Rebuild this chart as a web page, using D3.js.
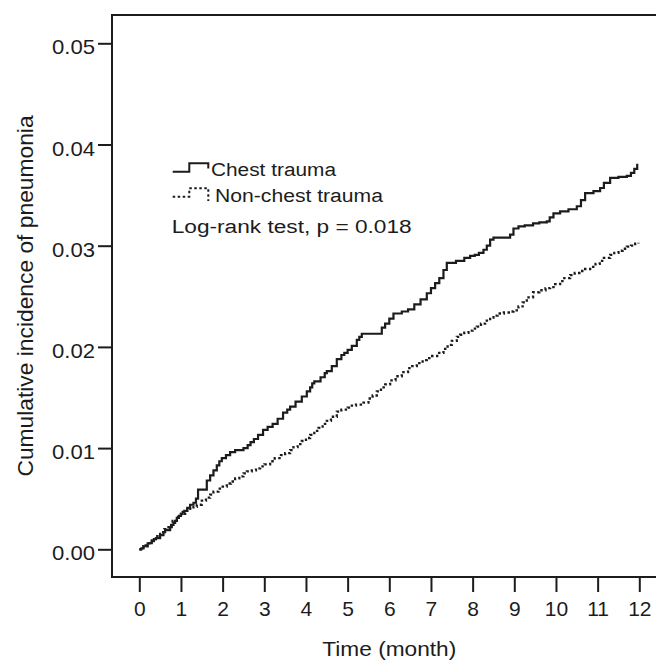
<!DOCTYPE html>
<html>
<head>
<meta charset="utf-8">
<script src="https://cdn.jsdelivr.net/npm/d3@7"></script>
<style>
  html, body { margin: 0; padding: 0; background: #fff; }
  svg { display: block; font-family: "Liberation Sans", Arial, Helvetica, sans-serif; }
</style>
</head>
<body>
<svg id="chart" width="656" height="661"></svg>
<script>
// ---- data ----
const xTicks = [0,1,2,3,4,5,6,7,8,9,10,11,12];
const yTicks = [0.00, 0.01, 0.02, 0.03, 0.04, 0.05];
const yTickLabels = ["0.00","0.01","0.02","0.03","0.04","0.05"];

const chestTime = [0,0.05,0.1,0.15,0.2,0.3,0.35,0.4,0.5,0.58,0.62,0.74,0.78,0.82,0.86,0.9,0.95,1.0,1.04,1.08,1.15,1.22,1.3,1.36,1.41,1.62,1.7,1.78,1.86,1.92,1.98,2.08,2.18,2.3,2.5,2.6,2.67,2.75,2.85,2.97,3.08,3.2,3.32,3.45,3.55,3.62,3.75,3.9,4.02,4.1,4.15,4.2,4.35,4.45,4.5,4.62,4.74,4.85,4.92,5.0,5.1,5.22,5.28,5.34,5.82,5.9,6.0,6.1,6.3,6.45,6.6,6.75,6.9,7.0,7.1,7.2,7.3,7.38,7.6,7.8,7.94,8.05,8.15,8.26,8.34,8.42,8.5,8.9,8.98,9.1,9.25,9.45,9.6,9.78,9.85,9.94,10.1,10.3,10.5,10.6,10.7,10.9,11.06,11.15,11.3,11.5,11.7,11.8,11.88,11.95];
const chestValue = [0,0.0001,0.0003,0.0004,0.0006,0.0008,0.0010,0.0011,0.0014,0.0017,0.0019,0.0022,0.0024,0.0026,0.0028,0.0031,0.0033,0.0035,0.0037,0.0038,0.0041,0.0044,0.0046,0.0050,0.0059,0.0068,0.0073,0.0078,0.0083,0.0087,0.0090,0.0093,0.0096,0.0098,0.0100,0.0103,0.0106,0.0109,0.0113,0.0118,0.0121,0.0124,0.0129,0.0135,0.0138,0.0141,0.0146,0.0151,0.0156,0.0160,0.0164,0.0166,0.0170,0.0174,0.0176,0.0181,0.0188,0.0192,0.0194,0.0197,0.0201,0.0207,0.0210,0.0213,0.0219,0.0223,0.0228,0.0233,0.0235,0.0237,0.0242,0.0247,0.0253,0.0258,0.0263,0.0268,0.0276,0.0283,0.0285,0.0288,0.0290,0.0291,0.0293,0.0296,0.0300,0.0306,0.0308,0.0311,0.0317,0.0319,0.0320,0.0322,0.0323,0.0324,0.0328,0.0332,0.0334,0.0336,0.0339,0.0345,0.0352,0.0354,0.0357,0.0362,0.0367,0.0368,0.0369,0.0372,0.0376,0.0381];

const nonTime = [0,0.1,0.2,0.3,0.4,0.5,0.6,0.7,0.8,0.9,1.0,1.1,1.2,1.3,1.38,1.5,1.6,1.7,1.78,1.9,2.0,2.1,2.2,2.3,2.4,2.5,2.58,2.7,2.8,2.9,3.0,3.14,3.25,3.4,3.5,3.62,3.7,3.8,3.9,4.0,4.1,4.2,4.3,4.4,4.5,4.6,4.74,4.85,5.0,5.1,5.2,5.38,5.5,5.6,5.7,5.8,5.9,6.02,6.15,6.3,6.45,6.55,6.66,6.8,6.9,7.0,7.15,7.3,7.4,7.5,7.62,7.7,7.8,7.9,8.0,8.1,8.2,8.3,8.42,8.5,8.6,8.75,8.9,8.98,9.1,9.2,9.3,9.45,9.6,9.75,9.86,9.98,10.1,10.2,10.34,10.45,10.6,10.7,10.82,10.95,11.05,11.15,11.3,11.4,11.5,11.6,11.7,11.8,11.9,11.98];
const nonValue = [0,0.0003,0.0006,0.0010,0.0013,0.0017,0.0020,0.0024,0.0028,0.0032,0.0035,0.0038,0.0040,0.0042,0.0044,0.0048,0.0051,0.0054,0.0057,0.0060,0.0062,0.0065,0.0067,0.0070,0.0072,0.0075,0.0077,0.0078,0.0080,0.0082,0.0084,0.0087,0.0090,0.0093,0.0095,0.0098,0.0101,0.0104,0.0107,0.0110,0.0113,0.0117,0.0120,0.0124,0.0127,0.0131,0.0136,0.0138,0.0140,0.0142,0.0143,0.0145,0.0149,0.0152,0.0156,0.0160,0.0163,0.0167,0.0171,0.0175,0.0179,0.0181,0.0184,0.0187,0.0189,0.0191,0.0194,0.0198,0.0202,0.0206,0.0210,0.0212,0.0214,0.0216,0.0218,0.0220,0.0223,0.0226,0.0229,0.0231,0.0233,0.0234,0.0235,0.0236,0.0240,0.0244,0.0249,0.0254,0.0256,0.0258,0.0259,0.0262,0.0265,0.0268,0.0271,0.0273,0.0275,0.0277,0.0279,0.0282,0.0285,0.0288,0.0291,0.0293,0.0295,0.0297,0.0299,0.0300,0.0302,0.0303];

const seriesNames = ["Chest trauma", "Non-chest trauma"];
const xTitle = "Time (month)";
const yTitle = "Cumulative incidence of pneumonia";
const annotation = "Log-rank test, p = 0.018";

// ---- drawing ----
const svg = d3.select("#chart");
const ink = "#1c1c1c";
const frame = {left: 112, top: 15, right: 660, bottom: 577};

const x = d3.scaleLinear().domain([0, 12]).range([139.3, 639.3]);
const y = d3.scaleLinear().domain([0, 0.05]).range([549.3, 43.3]);

// frame (left, top, bottom; right edge runs off the picture)
svg.append("path")
  .attr("d", `M${frame.right},${frame.top}H${frame.left}V${frame.bottom}H${frame.right}`)
  .attr("fill", "none").attr("stroke", ink).attr("stroke-width", 2);

// x axis ticks
const xAxis = d3.axisBottom(x).tickValues(xTicks).tickSize(15).tickPadding(9).tickFormat(d3.format("d"));
const gx = svg.append("g").attr("transform", `translate(0,${frame.bottom})`).call(xAxis);
gx.select(".domain").remove();
gx.selectAll(".tick line").attr("stroke", ink).attr("stroke-width", 2);
gx.selectAll(".tick text").attr("fill", ink).attr("font-size", 21)
  .attr("font-family", "'Liberation Sans', Arial, sans-serif");

// y axis ticks
const yAxis = d3.axisLeft(y).tickValues(yTicks).tickSize(14).tickPadding(3)
  .tickFormat((d, i) => yTickLabels[i]);
const gy = svg.append("g").attr("transform", `translate(${frame.left},0)`).call(yAxis);
gy.select(".domain").remove();
gy.selectAll(".tick line").attr("stroke", ink).attr("stroke-width", 2);
gy.selectAll(".tick text").attr("fill", ink).attr("font-size", 21)
  .attr("font-family", "'Liberation Sans', Arial, sans-serif")
  .attr("dy", "0.5em").attr("textLength", 43).attr("lengthAdjust", "spacingAndGlyphs");

// titles
svg.append("text").attr("x", x(6)).attr("y", 656).attr("text-anchor", "middle")
  .attr("font-size", 21).attr("fill", ink)
  .attr("textLength", 134).attr("lengthAdjust", "spacingAndGlyphs").text(xTitle);

svg.append("text").attr("transform", "translate(33,296) rotate(-90)").attr("text-anchor", "middle")
  .attr("font-size", 22.8).attr("fill", ink).text(yTitle);

// curves
const line = d3.line().curve(d3.curveStepAfter).x(d => x(d[0])).y(d => y(d[1]));
const chest = chestTime.map((t, i) => [t, chestValue[i]]);
const nonChest = nonTime.map((t, i) => [t, nonValue[i]]);

svg.append("path").datum(nonChest).attr("d", line)
  .attr("fill", "none").attr("stroke", ink).attr("stroke-width", 2.3)
  .attr("stroke-dasharray", "2.5,2.5");
svg.append("path").datum(chest).attr("d", line)
  .attr("fill", "none").attr("stroke", ink).attr("stroke-width", 2.2)
  .attr("stroke-linejoin", "miter");

// legend
const lg = svg.append("g");
lg.append("path").attr("d", "M172.7,171.7H189.3V163.3H208.3V168.5")
  .attr("fill", "none").attr("stroke", ink).attr("stroke-width", 2);
lg.append("text").attr("x", 211).attr("y", 176).attr("font-size", 17.6).attr("fill", ink)
  .attr("textLength", 125).attr("lengthAdjust", "spacingAndGlyphs").text(seriesNames[0]);

lg.append("path").attr("d", "M172.7,196.7H189.3V188.3H208.3V201")
  .attr("fill", "none").attr("stroke", ink).attr("stroke-width", 2)
  .attr("stroke-dasharray", "2.5,2.5");
lg.append("text").attr("x", 215).attr("y", 201.7).attr("font-size", 17.6).attr("fill", ink)
  .attr("textLength", 168).attr("lengthAdjust", "spacingAndGlyphs").text(seriesNames[1]);

lg.append("text").attr("x", 171.7).attr("y", 232.7).attr("font-size", 17.6).attr("fill", ink)
  .attr("textLength", 240).attr("lengthAdjust", "spacingAndGlyphs").text(annotation);
</script>
</body>
</html>
